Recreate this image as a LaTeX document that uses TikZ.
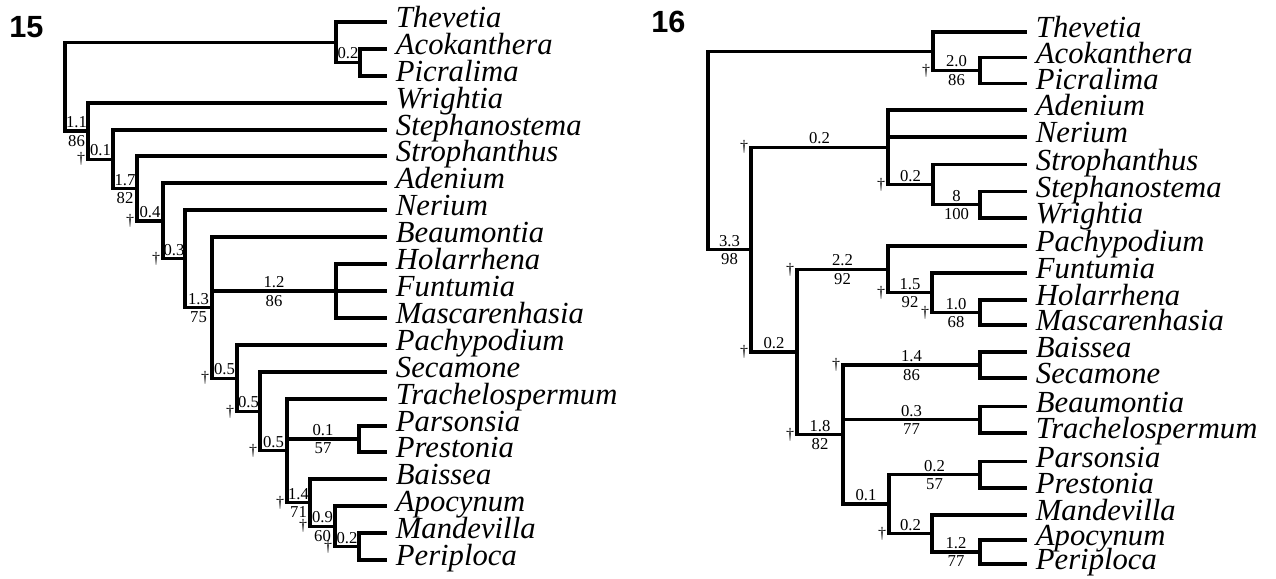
\documentclass[tikz,border=0pt]{standalone}
\usepackage{fontspec}
\setmainfont{Liberation Serif}
\setsansfont{Liberation Sans}
\usetikzlibrary{calc}
\tikzset{
  branch line/.style={line width=2.5pt},
  taxon node/.style={anchor=west,inner xsep=6.5pt,inner ysep=0pt,
    text height=8.5pt,text depth=0pt,font=\fontsize{23}{23}\selectfont\itshape},
  bs above/.style={above,inner sep=1.2pt,font=\fontsize{12.5}{12.5}\selectfont},
  bs below/.style={below,inner sep=1.8pt,font=\fontsize{12.5}{12.5}\selectfont},
  dagger node/.style={left,inner sep=1pt,font=\fontsize{12}{12}\selectfont},
  panel label/.style={anchor=base west,inner sep=0pt,
    font=\sffamily\bfseries\fontsize{23}{23}\selectfont}
}
\begin{document}
\begin{tikzpicture}[x=0.75pt,y=-0.75pt]
  \useasboundingbox (0,0) rectangle (1276,578);
  % ---------- tree 15 ----------
  \node[panel label] (p15) at (9,37) {15};
  \node[taxon node] (thev1) at (387,22) {Thevetia};
  \node[taxon node] (acok1) at (387,49) {Acokanthera};
  \node[taxon node] (picr1) at (387,76) {Picralima};
  \node[taxon node] (wrig1) at (387,103) {Wrightia};
  \node[taxon node] (step1) at (387,130) {Stephanostema};
  \node[taxon node] (stro1) at (387,156) {Strophanthus};
  \node[taxon node] (aden1) at (387,183) {Adenium};
  \node[taxon node] (neri1) at (387,210) {Nerium};
  \node[taxon node] (beau1) at (387,237) {Beaumontia};
  \node[taxon node] (hola1) at (387,264) {Holarrhena};
  \node[taxon node] (funt1) at (387,291) {Funtumia};
  \node[taxon node] (masc1) at (387,318) {Mascarenhasia};
  \node[taxon node] (pach1) at (387,345) {Pachypodium};
  \node[taxon node] (seca1) at (387,372) {Secamone};
  \node[taxon node] (trac1) at (387,399) {Trachelospermum};
  \node[taxon node] (pars1) at (387,426) {Parsonsia};
  \node[taxon node] (pres1) at (387,452) {Prestonia};
  \node[taxon node] (bais1) at (387,479) {Baissea};
  \node[taxon node] (apoc1) at (387,506) {Apocynum};
  \node[taxon node] (mand1) at (387,533) {Mandevilla};
  \node[taxon node] (peri1) at (387,560) {Periploca};
  % internal nodes
  \coordinate (r1) at (65,86.7);
  \coordinate (tv1) at (336,42.25);
  \coordinate (ap1) at (360,62.5);
  \coordinate (wr1) at (88,131.1);
  \coordinate (sm1) at (113,159.2);
  \coordinate (st1) at (137,188.5);
  \coordinate (ad1) at (163,220.9);
  \coordinate (ne1) at (185,258.8);
  \coordinate (be1) at (212,307.6);
  \coordinate (hf1) at (336,291);
  \coordinate (pa1) at (237,378.2);
  \coordinate (se1) at (260,411.4);
  \coordinate (tr1) at (287,450.8);
  \coordinate (pp1) at (359,439);
  \coordinate (ba1) at (310,502.6);
  \coordinate (am1) at (335,526.25);
  \coordinate (mp1) at (359,546.5);
  % branches
  \draw[branch line] (r1) |- (tv1);
  \draw[branch line] (tv1) |- (thev1.west);
  \draw[branch line] (tv1) |- node[pos=.75,bs above]{0.2} (ap1);
  \draw[branch line] (ap1) |- (acok1.west);
  \draw[branch line] (ap1) |- (picr1.west);
  \draw[branch line] (r1) |- node[pos=.75,bs above]{1.1} node[pos=.75,bs below]{86} (wr1);
  \draw[branch line] (wr1) |- (wrig1.west);
  \draw[branch line] (wr1) |- node[pos=.75,bs above]{0.1} node[pos=.5,dagger node]{†} (sm1);
  \draw[branch line] (sm1) |- (step1.west);
  \draw[branch line] (sm1) |- node[pos=.75,bs above]{1.7} node[pos=.75,bs below]{82} (st1);
  \draw[branch line] (st1) |- (stro1.west);
  \draw[branch line] (st1) |- node[pos=.75,bs above]{0.4} node[pos=.5,dagger node]{†} (ad1);
  \draw[branch line] (ad1) |- (aden1.west);
  \draw[branch line] (ad1) |- node[pos=.75,bs above]{0.3} node[pos=.5,dagger node]{†} (ne1);
  \draw[branch line] (ne1) |- (neri1.west);
  \draw[branch line] (ne1) |- node[pos=.75,bs above]{1.3} node[pos=.75,bs below]{75} (be1);
  \draw[branch line] (be1) |- (beau1.west);
  \draw[branch line] (be1) |- node[pos=.75,bs above]{1.2} node[pos=.75,bs below]{86} (hf1);
  \draw[branch line] (hf1) |- (hola1.west);
  \draw[branch line] (hf1) |- (funt1.west);
  \draw[branch line] (hf1) |- (masc1.west);
  \draw[branch line] (be1) |- node[pos=.75,bs above]{0.5} node[pos=.5,dagger node]{†} (pa1);
  \draw[branch line] (pa1) |- (pach1.west);
  \draw[branch line] (pa1) |- node[pos=.75,bs above]{0.5} node[pos=.5,dagger node]{†} (se1);
  \draw[branch line] (se1) |- (seca1.west);
  \draw[branch line] (se1) |- node[pos=.75,bs above]{0.5} node[pos=.5,dagger node]{†} (tr1);
  \draw[branch line] (tr1) |- (trac1.west);
  \draw[branch line] (tr1) |- node[pos=.75,bs above]{0.1} node[pos=.75,bs below]{57} (pp1);
  \draw[branch line] (pp1) |- (pars1.west);
  \draw[branch line] (pp1) |- (pres1.west);
  \draw[branch line] (tr1) |- node[pos=.75,bs above]{1.4} node[pos=.75,bs below]{71} node[pos=.5,dagger node]{†} (ba1);
  \draw[branch line] (ba1) |- (bais1.west);
  \draw[branch line] (ba1) |- node[pos=.75,bs above]{0.9} node[pos=.75,bs below]{60} node[pos=.5,dagger node]{†} (am1);
  \draw[branch line] (am1) |- (apoc1.west);
  \draw[branch line] (am1) |- node[pos=.75,bs above]{0.2} node[pos=.5,dagger node]{†} (mp1);
  \draw[branch line] (mp1) |- (mand1.west);
  \draw[branch line] (mp1) |- (peri1.west);
  % ---------- tree 16 ----------
  \node[panel label] (p16) at (651,32) {16};
  \node[taxon node] (thev2) at (1027,32) {Thevetia};
  \node[taxon node] (acok2) at (1027,57.5) {Acokanthera};
  \node[taxon node] (picr2) at (1027,83.5) {Picralima};
  \node[taxon node] (aden2) at (1027,110) {Adenium};
  \node[taxon node] (neri2) at (1027,137) {Nerium};
  \node[taxon node] (stro2) at (1027,164.5) {Strophanthus};
  \node[taxon node] (step2) at (1027,191.5) {Stephanostema};
  \node[taxon node] (wrig2) at (1027,218) {Wrightia};
  \node[taxon node] (pach2) at (1027,246) {Pachypodium};
  \node[taxon node] (funt2) at (1027,273) {Funtumia};
  \node[taxon node] (hola2) at (1027,300) {Holarrhena};
  \node[taxon node] (masc2) at (1027,325) {Mascarenhasia};
  \node[taxon node] (bais2) at (1027,352) {Baissea};
  \node[taxon node] (seca2) at (1027,378) {Secamone};
  \node[taxon node] (beau2) at (1027,406.5) {Beaumontia};
  \node[taxon node] (trac2) at (1027,433) {Trachelospermum};
  \node[taxon node] (pars2) at (1027,461.5) {Parsonsia};
  \node[taxon node] (pres2) at (1027,488) {Prestonia};
  \node[taxon node] (mand2) at (1027,515) {Mandevilla};
  \node[taxon node] (apoc2) at (1027,540) {Apocynum};
  \node[taxon node] (peri2) at (1027,564) {Periploca};
  % internal nodes
  \coordinate (r2) at (708,150.4);
  \coordinate (tv2) at (933,51.25);
  \coordinate (ap2) at (980,70.5);
  \coordinate (ga2) at (751,249.6);
  \coordinate (an2) at (888,147.3);
  \coordinate (ss2) at (933,184.6);
  \coordinate (sw2) at (980,204.75);
  \coordinate (pb2) at (797,352);
  \coordinate (pf2) at (888,269.4);
  \coordinate (fh2) at (932,292.75);
  \coordinate (hm2) at (980,312.5);
  \coordinate (bb2) at (843,434.6);
  \coordinate (bs2) at (980,365);
  \coordinate (bt2) at (980,419.75);
  \coordinate (pm2) at (889,504.1);
  \coordinate (pr2) at (980,474.75);
  \coordinate (ma2) at (932,533.5);
  \coordinate (al2) at (980,552);
  % branches
  \draw[branch line] (r2) |- (tv2);
  \draw[branch line] (tv2) |- (thev2.west);
  \draw[branch line] (tv2) |- node[pos=.75,bs above]{2.0} node[pos=.75,bs below]{86} node[pos=.5,dagger node]{†} (ap2);
  \draw[branch line] (ap2) |- (acok2.west);
  \draw[branch line] (ap2) |- (picr2.west);
  \draw[branch line] (r2) |- node[pos=.75,bs above]{3.3} node[pos=.75,bs below]{98} (ga2);
  \draw[branch line] (ga2) |- node[pos=.75,bs above]{0.2} node[pos=.5,dagger node]{†} (an2);
  \draw[branch line] (an2) |- (aden2.west);
  \draw[branch line] (an2) |- (neri2.west);
  \draw[branch line] (an2) |- node[pos=.75,bs above]{0.2} node[pos=.5,dagger node]{†} (ss2);
  \draw[branch line] (ss2) |- (stro2.west);
  \draw[branch line] (ss2) |- node[pos=.75,bs above]{8} node[pos=.75,bs below]{100} (sw2);
  \draw[branch line] (sw2) |- (step2.west);
  \draw[branch line] (sw2) |- (wrig2.west);
  \draw[branch line] (ga2) |- node[pos=.75,bs above]{0.2} node[pos=.5,dagger node]{†} (pb2);
  \draw[branch line] (pb2) |- node[pos=.75,bs above]{2.2} node[pos=.75,bs below]{92} node[pos=.5,dagger node]{†} (pf2);
  \draw[branch line] (pf2) |- (pach2.west);
  \draw[branch line] (pf2) |- node[pos=.75,bs above]{1.5} node[pos=.75,bs below]{92} node[pos=.5,dagger node]{†} (fh2);
  \draw[branch line] (fh2) |- (funt2.west);
  \draw[branch line] (fh2) |- node[pos=.75,bs above]{1.0} node[pos=.75,bs below]{68} node[pos=.5,dagger node]{†} (hm2);
  \draw[branch line] (hm2) |- (hola2.west);
  \draw[branch line] (hm2) |- (masc2.west);
  \draw[branch line] (pb2) |- node[pos=.75,bs above]{1.8} node[pos=.75,bs below]{82} node[pos=.5,dagger node]{†} (bb2);
  \draw[branch line] (bb2) |- node[pos=.75,bs above]{1.4} node[pos=.75,bs below]{86} node[pos=.5,dagger node]{†} (bs2);
  \draw[branch line] (bs2) |- (bais2.west);
  \draw[branch line] (bs2) |- (seca2.west);
  \draw[branch line] (bb2) |- node[pos=.75,bs above]{0.3} node[pos=.75,bs below]{77} (bt2);
  \draw[branch line] (bt2) |- (beau2.west);
  \draw[branch line] (bt2) |- (trac2.west);
  \draw[branch line] (bb2) |- node[pos=.75,bs above]{0.1} (pm2);
  \draw[branch line] (pm2) |- node[pos=.75,bs above]{0.2} node[pos=.75,bs below]{57} (pr2);
  \draw[branch line] (pr2) |- (pars2.west);
  \draw[branch line] (pr2) |- (pres2.west);
  \draw[branch line] (pm2) |- node[pos=.75,bs above]{0.2} node[pos=.5,dagger node]{†} (ma2);
  \draw[branch line] (ma2) |- (mand2.west);
  \draw[branch line] (ma2) |- node[pos=.75,bs above]{1.2} node[pos=.75,bs below]{77} (al2);
  \draw[branch line] (al2) |- (apoc2.west);
  \draw[branch line] (al2) |- (peri2.west);
\end{tikzpicture}
\end{document}
